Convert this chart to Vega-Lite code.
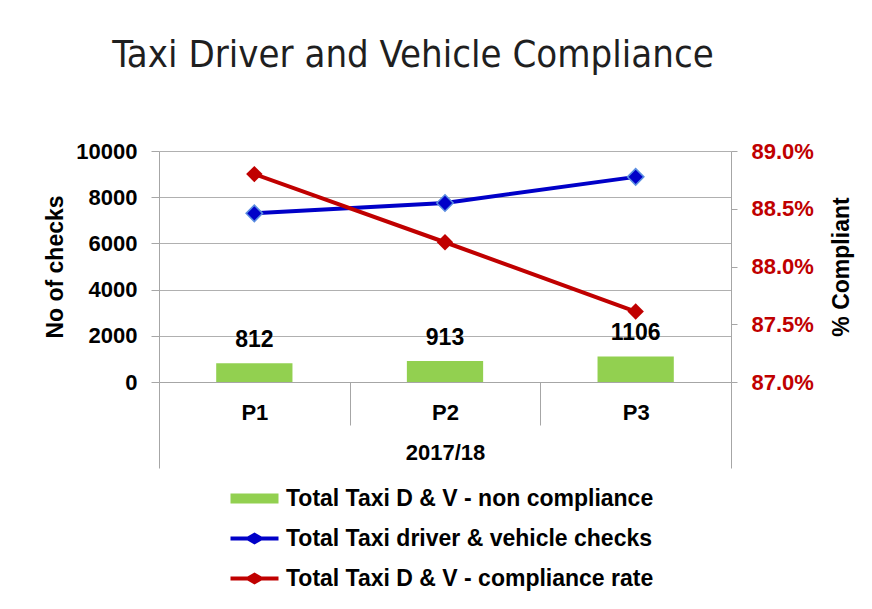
{
  "$schema": "https://vega.github.io/schema/vega-lite/v6.json",
  "width": 572,
  "height": 231,
  "autosize": "none",
  "padding": {"left": 159, "top": 151, "right": 141, "bottom": 227},
  "background": "white",
  "title": {
    "text": "Taxi Driver and Vehicle Compliance",
    "font": "DejaVu Sans Condensed, DejaVu Sans",
    "fontSize": 38,
    "fontWeight": "normal",
    "color": "#1f1f1f",
    "anchor": "middle",
    "frame": "group",
    "dx": -32,
    "offset": 65
  },
  "data": {
    "values": [
      {"period": "P1", "series": "Total Taxi D & V - non compliance", "value": 812},
      {"period": "P2", "series": "Total Taxi D & V - non compliance", "value": 913},
      {"period": "P3", "series": "Total Taxi D & V - non compliance", "value": 1106},
      {"period": "P1", "series": "Total Taxi driver & vehicle  checks", "value": 7300},
      {"period": "P2", "series": "Total Taxi driver & vehicle  checks", "value": 7750},
      {"period": "P3", "series": "Total Taxi driver & vehicle  checks", "value": 8880},
      {"period": "P1", "series": "Total Taxi D & V - compliance rate", "value": 0.888},
      {"period": "P2", "series": "Total Taxi D & V - compliance rate", "value": 0.8821},
      {"period": "P3", "series": "Total Taxi D & V - compliance rate", "value": 0.8761}
    ]
  },
  "encoding": {
    "x": {
      "field": "period",
      "type": "nominal",
      "scale": {"paddingInner": 0, "paddingOuter": 0},
      "axis": {
        "title": "2017/18",
        "labelAngle": 0,
        "tickBand": "extent",
        "tickSize": {"condition": {"test": "datum.index === -1 || datum.value === 'P3'", "value": 86}, "value": 43},
        "tickColor": "#a6a6a6",
        "domainColor": "#a6a6a6",
        "labelFont": "Liberation Sans",
        "labelFontWeight": "bold",
        "labelFontSize": 22,
        "labelColor": "black",
        "labelPadding": {"condition": {"test": "datum.value === 'P3'", "value": -66}, "value": -23},
        "titleFont": "Liberation Sans",
        "titleFontWeight": "bold",
        "titleFontSize": 22,
        "titleColor": "black",
        "titleY": 70,
        "titleBaseline": "middle",
        "grid": false
      }
    }
  },
  "layer": [
    {
      "encoding": {
        "y": {
          "field": "value",
          "type": "quantitative",
          "scale": {"domain": [0, 10000]},
          "axis": {
            "title": "No of checks",
            "values": [0, 2000, 4000, 6000, 8000, 10000],
            "format": "d",
            "grid": true,
            "gridColor": "#b0b0b0",
            "domainColor": "#a6a6a6",
            "tickColor": "#a6a6a6",
            "tickSize": 8,
            "labelPadding": 14,
            "labelFont": "Liberation Sans",
            "labelFontWeight": "bold",
            "labelFontSize": 22,
            "labelColor": "black",
            "titleFont": "Liberation Sans",
            "titleFontWeight": "bold",
            "titleFontSize": 23,
            "titleColor": "black",
            "titlePadding": 8
          }
        }
      },
      "layer": [
        {
          "transform": [{"filter": "datum.series === 'Total Taxi D & V - non compliance'"}],
          "mark": {"type": "bar", "width": {"band": 0.4}},
          "encoding": {
            "color": {
              "field": "series",
              "type": "nominal",
              "scale": {
                "domain": ["Total Taxi D & V - non compliance", "Total Taxi driver & vehicle  checks", "Total Taxi D & V - compliance rate"],
                "range": ["#92D050", "#0000C8", "#C00000"]
              },
              "legend": {
                "orient": "none",
                "legendX": 84,
                "legendY": 336,
                "title": null,
                "direction": "vertical",
                "padding": 0,
                "labelFont": "Liberation Sans",
                "labelFontSize": 23,
                "labelFontWeight": "bold",
                "labelColor": "black",
                "labelLimit": 600,
                "symbolSize": 400,
                "labelOffset": 20,
                "rowPadding": 16,
                "encode": {
                  "symbols": {
                    "update": {
                      "shape": {"signal": "datum.value === 'Total Taxi D & V - non compliance' ? 'M-2.4,-0.5H2.4V0.5H-2.4Z' : 'M-2.4,-0.2H-0.7L0,-0.6L0.7,-0.2H2.4V0.2H0.7L0,0.6L-0.7,0.2H-2.4Z'"},
                      "fill": {"signal": "scale('color', datum.value)"},
                      "stroke": {"value": "transparent"},
                      "strokeWidth": {"value": 0},
                      "opacity": {"value": 1},
                      "fillOpacity": {"value": 1}
                    }
                  }
                }
              }
            }
          }
        },
        {
          "transform": [{"filter": "datum.series === 'Total Taxi D & V - non compliance'"}],
          "mark": {"type": "text", "baseline": "alphabetic", "dy": -16, "font": "Liberation Sans", "fontWeight": "bold", "fontSize": 23, "color": "black"},
          "encoding": {"text": {"field": "value", "type": "quantitative", "format": "d"}}
        },
        {
          "transform": [{"filter": "datum.series === 'Total Taxi driver & vehicle  checks'"}],
          "mark": {"type": "line", "strokeWidth": 4},
          "encoding": {"color": {"field": "series", "type": "nominal"}}
        },
        {
          "transform": [{"filter": "datum.series === 'Total Taxi driver & vehicle  checks'"}],
          "mark": {"type": "point", "shape": "diamond", "filled": true, "size": 270, "opacity": 1, "stroke": "#5a8de0", "strokeWidth": 1.5},
          "encoding": {"color": {"field": "series", "type": "nominal"}}
        }
      ]
    },
    {
      "transform": [{"filter": "datum.series === 'Total Taxi D & V - compliance rate'"}],
      "encoding": {
        "y": {
          "field": "value",
          "type": "quantitative",
          "scale": {"domain": [0.87, 0.89]},
          "axis": {
            "orient": "right",
            "title": "% Compliant",
            "values": [0.87, 0.875, 0.88, 0.885, 0.89],
            "format": ".1%",
            "grid": false,
            "domainColor": "#a6a6a6",
            "tickColor": "#a6a6a6",
            "tickSize": 6,
            "labelPadding": 14,
            "labelFont": "Liberation Sans",
            "labelFontWeight": "bold",
            "labelFontSize": 22,
            "labelColor": "#C00000",
            "titleFont": "Liberation Sans",
            "titleFontWeight": "bold",
            "titleFontSize": 23,
            "titleColor": "black",
            "titleAngle": 270,
            "titlePadding": 40
          }
        }
      },
      "layer": [
        {
          "mark": {"type": "line", "strokeWidth": 4},
          "encoding": {"color": {"field": "series", "type": "nominal"}}
        },
        {
          "mark": {"type": "point", "shape": "diamond", "filled": true, "size": 270, "opacity": 1},
          "encoding": {"color": {"field": "series", "type": "nominal"}}
        }
      ]
    }
  ],
  "resolve": {"scale": {"y": "independent"}},
  "config": {"view": {"stroke": null}}
}
